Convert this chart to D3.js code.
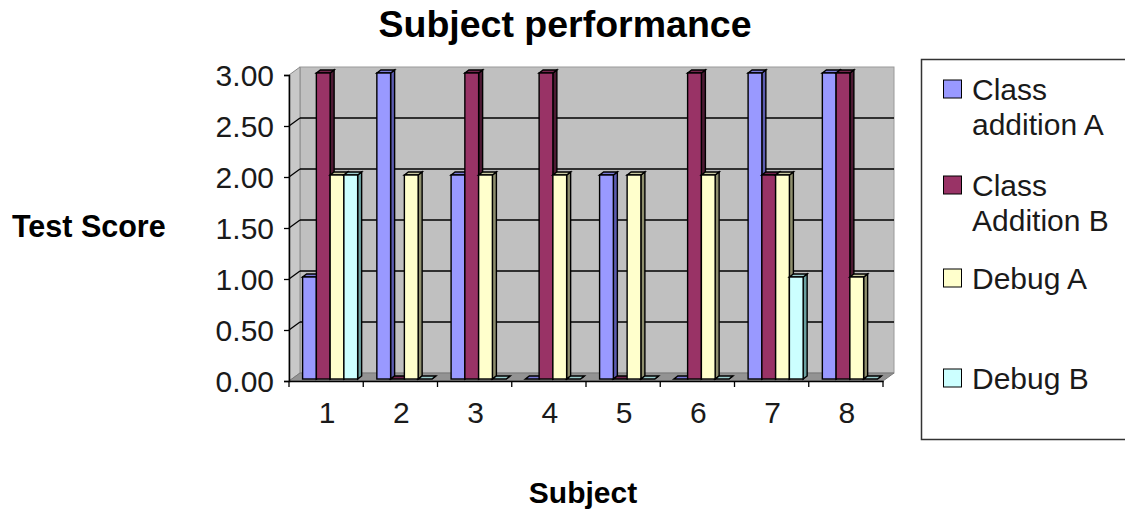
<!DOCTYPE html>
<html>
<head>
<meta charset="utf-8">
<script src="https://cdn.jsdelivr.net/npm/d3@7"></script>
<style>
  html, body { margin: 0; padding: 0; background: #fff; }
  svg { display: block; font-family: "Liberation Sans", Arial, sans-serif; }
</style>
</head>
<body>
<svg id="chart" width="1125" height="512"></svg>
<script>
// ---- data ----
const subjects = ["1", "2", "3", "4", "5", "6", "7", "8"];
const seriesNames = ["Class addition A", "Class Addition B", "Debug A", "Debug B"];
const legendLines = [["Class", "addition A"], ["Class", "Addition B"], ["Debug A"], ["Debug B"]];
const classAdditionA = [1, 3, 2, 0, 2, 0, 3, 3];
const classAdditionB = [3, 0, 3, 3, 0, 3, 2, 3];
const debugA = [2, 2, 2, 2, 2, 2, 2, 1];
const debugB = [2, 0, 0, 0, 0, 0, 1, 0];
const yTicks = [0, 0.5, 1, 1.5, 2, 2.5, 3];

const seriesValues = [classAdditionA, classAdditionB, debugA, debugB];
const faceColors = ["#9999ff", "#993366", "#ffffcc", "#ccffff"];
const sideColors = ["#5c5cb0", "#4d1a33", "#8f8f6e", "#6aa0a0"];
const topColors  = ["#7a7ad6", "#73264d", "#c8c8a0", "#9ccccc"];

const svg = d3.select("#chart");

// ---- scales ----
const x0 = d3.scaleBand().domain(subjects).range([289, 883]).paddingInner(0).paddingOuter(0);
const y = d3.scaleLinear().domain([0, 3]).range([381, 75]);
const gap = 9.6;
const x1 = d3.scaleBand().domain(seriesNames).range([gap, x0.bandwidth() - gap]);

// 3D offsets: back wall, bar front plane, bar depth
const wall = { dx: 11, dy: -8 };
const plane = { dx: 4, dy: -2 };
const depth = { dx: 4, dy: -3 };

const xL = x0.range()[0], xR = x0.range()[1];

// ---- walls ----
const g = svg.append("g");
// back wall
g.append("rect")
  .attr("x", xL + wall.dx).attr("y", y(3) + wall.dy)
  .attr("width", xR - xL).attr("height", y(0) - y(3))
  .attr("fill", "#c0c0c0").attr("stroke", "#9a9a9a").attr("stroke-width", 1);
// side wall
g.append("polygon")
  .attr("points", [[xL, y(3)], [xL + wall.dx, y(3) + wall.dy], [xL + wall.dx, y(0) + wall.dy], [xL, y(0)]].join(" "))
  .attr("fill", "#c8c8c8").attr("stroke", "#8a8a8a").attr("stroke-width", 1);
// floor
g.append("polygon")
  .attr("points", [[xL, y(0)], [xL + wall.dx, y(0) + wall.dy], [xR + wall.dx, y(0) + wall.dy], [xR, y(0)]].join(" "))
  .attr("fill", "#939393").attr("stroke", "#7a7a7a").attr("stroke-width", 1);

// gridlines on back wall and side wall
const grid = g.append("g").attr("stroke", "#000").attr("stroke-width", 1.3);
yTicks.filter(v => v > 0 && v < 3).forEach(v => {
  grid.append("line")
    .attr("x1", xL + wall.dx).attr("x2", xR + wall.dx)
    .attr("y1", y(v) + wall.dy).attr("y2", y(v) + wall.dy);
  grid.append("line")
    .attr("x1", xL).attr("x2", xL + wall.dx)
    .attr("y1", y(v)).attr("y2", y(v) + wall.dy);
});

// ---- bars ----
const bars = svg.append("g").attr("stroke", "#000").attr("stroke-width", 1.4).attr("stroke-linejoin", "miter");
subjects.forEach((s, i) => {
  seriesNames.forEach((name, k) => {
    const v = seriesValues[k][i];
    const bx = x0(s) + x1(name) + plane.dx;
    const bw = x1.bandwidth();
    const top = y(v) + plane.dy;
    const bottom = y(0) + plane.dy;
    // side face
    bars.append("polygon")
      .attr("points", [[bx + bw, top], [bx + bw + depth.dx, top + depth.dy], [bx + bw + depth.dx, bottom + depth.dy], [bx + bw, bottom]].join(" "))
      .attr("fill", sideColors[k]);
    // top face
    bars.append("polygon")
      .attr("points", [[bx, top], [bx + depth.dx, top + depth.dy], [bx + bw + depth.dx, top + depth.dy], [bx + bw, top]].join(" "))
      .attr("fill", topColors[k]);
    // front face
    if (v > 0) {
      bars.append("rect")
        .attr("x", bx).attr("y", top)
        .attr("width", bw).attr("height", bottom - top)
        .attr("fill", faceColors[k]);
    }
  });
});

// ---- axes ----
const yAxis = d3.axisLeft(y).tickValues(yTicks).tickFormat(d3.format(".2f")).tickSize(5).tickPadding(10);
const yg = svg.append("g").attr("transform", `translate(${xL},0)`).call(yAxis);
yg.select(".domain").attr("stroke", "#000").attr("stroke-width", 1.5);
yg.selectAll(".tick line").attr("stroke", "#000").attr("stroke-width", 1.3);
yg.selectAll(".tick text")
  .attr("font-size", 30).attr("fill", "#1a1a1a")
  .attr("font-family", "'Liberation Sans', Arial, sans-serif")
  .attr("dy", "0.36em");

const xAxis = d3.axisBottom(x0).tickSize(0).tickPadding(21);
const xg = svg.append("g").attr("transform", `translate(0,${y(0)})`).call(xAxis);
xg.select(".domain").attr("stroke", "#000").attr("stroke-width", 1.5);
xg.selectAll(".tick text")
  .attr("font-size", 30).attr("fill", "#1a1a1a")
  .attr("font-family", "'Liberation Sans', Arial, sans-serif")
  .attr("dx", 1);
// category boundary ticks
xg.selectAll(".bound").data(subjects.concat(["end"])).enter().append("line")
  .attr("x1", (d, i) => xL + i * x0.bandwidth()).attr("x2", (d, i) => xL + i * x0.bandwidth())
  .attr("y1", 0).attr("y2", 6).attr("stroke", "#000").attr("stroke-width", 1.3);

// ---- titles ----
svg.append("text")
  .attr("x", 565).attr("y", 37).attr("text-anchor", "middle")
  .attr("font-size", 37.5).attr("font-weight", "bold").attr("fill", "#000")
  .text("Subject performance");
svg.append("text")
  .attr("x", 12).attr("y", 237)
  .attr("font-size", 30.5).attr("font-weight", "bold").attr("fill", "#000")
  .text("Test Score");
svg.append("text")
  .attr("x", 583).attr("y", 503).attr("text-anchor", "middle")
  .attr("font-size", 30).attr("font-weight", "bold").attr("fill", "#000")
  .text("Subject");

// ---- legend ----
const legend = svg.append("g");
legend.append("rect")
  .attr("x", 921.5).attr("y", 59.5).attr("width", 240).attr("height", 380)
  .attr("fill", "#fff").attr("stroke", "#333").attr("stroke-width", 1.5);
const legendCenters = [89, 185, 278, 378];
seriesNames.forEach((name, k) => {
  const cy = legendCenters[k];
  legend.append("rect")
    .attr("x", 943.5).attr("y", cy - 9).attr("width", 18).attr("height", 18)
    .attr("fill", faceColors[k]).attr("stroke", "#000").attr("stroke-width", 1);
  legendLines[k].forEach((line, j) => {
    legend.append("text")
      .attr("x", 972).attr("y", cy + 11 + j * 35)
      .attr("font-size", 30).attr("fill", "#1a1a1a")
      .text(line);
  });
});
</script>
</body>
</html>
